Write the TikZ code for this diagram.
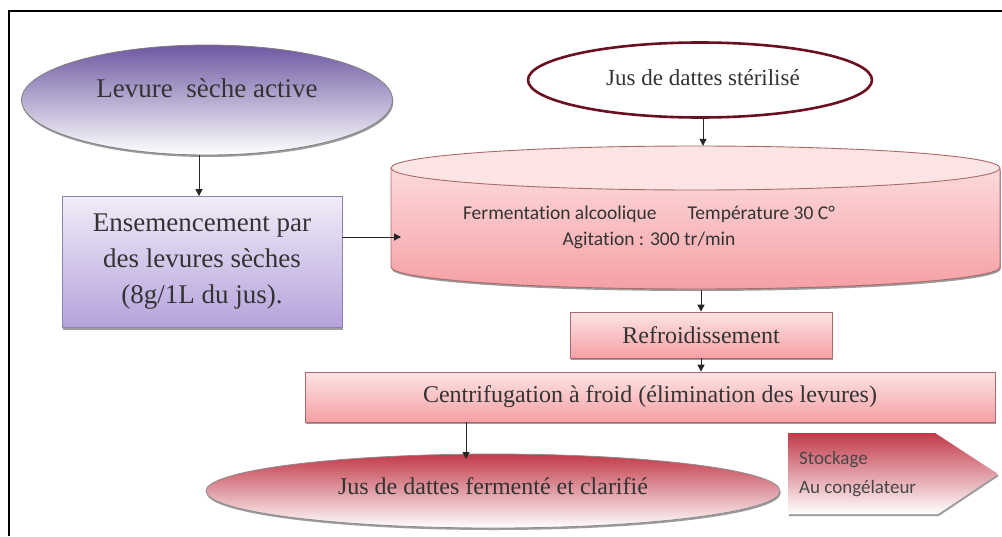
\documentclass[tikz,border=0pt]{standalone}
\usepackage{fontspec}
\setmainfont{Liberation Serif}
\newfontfamily\calfont[Ligatures=NoCommon]{Carlito}
\usetikzlibrary{shapes.geometric,arrows.meta,shadows}
\definecolor{levtop}{HTML}{6E58A2}
\definecolor{enstop}{HTML}{F1ECF8}
\definecolor{ensbot}{HTML}{B5A2DB}
\definecolor{ensline}{HTML}{8C80B4}
\definecolor{jusline}{HTML}{6B1020}
\definecolor{pinktop}{HTML}{FDE4E4}
\definecolor{pinkbot}{HTML}{F5A0A5}
\definecolor{pinkline}{HTML}{A86A6A}
\definecolor{redtop}{HTML}{C23A4A}
\definecolor{txtc}{HTML}{333333}
\tikzset{
  arr/.style={-{Triangle[length=7pt,width=7pt]}, line width=1pt, black!85},
  shad/.style={drop shadow={shadow xshift=0.8pt, shadow yshift=-2pt, fill=black!55, opacity=0.7}},
  serif/.style={text=txtc, inner sep=0pt},
}
\begin{document}
\begin{tikzpicture}[x=1pt,y=-1pt]
\useasboundingbox (0,0) rectangle (1002,536);
\fill[white] (0,0) rectangle (1002,536);
\draw[line width=2.2pt] (9,536) -- (9,11) -- (1002,11);

% Levure seche active
\node[ellipse, minimum width=371pt, minimum height=110pt, inner sep=0pt,
  draw=black!50, line width=0.8pt, top color=levtop, middle color=levtop!25!white, bottom color=white, shad] (lev) at (207,100) {};
\node[serif, font=\fontsize{27}{32}\selectfont] (levt) at (207,88) {Levure\ \ sèche active};

% Ensemencement
\node[rectangle, minimum width=280pt, minimum height=131pt, inner sep=0pt,
  draw=ensline, line width=0.8pt, top color=enstop, bottom color=ensbot, shad,
  align=center, text=txtc, font=\fontsize{27}{36}\selectfont] (ens) at (202,262)
  {Ensemencement par\\des levures sèches\\(8g/1L du jus).};

% Jus de dattes sterilise
\node[ellipse, minimum width=344pt, minimum height=75pt, inner sep=0pt,
  draw=jusline, line width=2.6pt, fill=white] (jus) at (700,80) {};
\node[serif, font=\fontsize{23}{28}\selectfont] (just) at (703,78) {Jus de dattes stérilisé};

% Cylinder
\fill[black!55, opacity=0.7, xshift=0.8pt, yshift=-2pt]
  (391,168) -- (391,267) arc[start angle=180, end angle=0, x radius=304.5, y radius=22] -- (1000,168) -- cycle;
\shade[top color=pinktop, bottom color=pinkbot]
  (391,168) -- (391,267) arc[start angle=180, end angle=0, x radius=304.5, y radius=22] -- (1000,168)
  arc[start angle=0, end angle=-180, x radius=304.5, y radius=22] -- cycle;
\draw[pinkline, line width=0.9pt]
  (391,168) -- (391,267) arc[start angle=180, end angle=0, x radius=304.5, y radius=22] -- (1000,168);
\draw[pinkline, line width=0.9pt, fill=pinktop] (695.5,168) ellipse[x radius=304.5, y radius=22];
\node[minimum width=609pt, minimum height=144pt, inner sep=0pt] (cyl) at (695.5,218) {};
\node[text=txtc, inner sep=0pt, align=center, font=\calfont\fontsize{19.5}{26}\selectfont] (cylt) at (649,227)
  {Fermentation alcoolique\hspace{1.6em}Température 30 C°\\Agitation : 300 tr/min};

% Refroidissement
\node[rectangle, minimum width=262pt, minimum height=46pt, inner sep=0pt,
  draw=pinkline, line width=0.8pt, top color=pinktop, bottom color=pinkbot, shad,
  text=txtc, font=\fontsize{24}{28}\selectfont] (ref) at (701,335) {Refroidissement};

% Centrifugation
\node[rectangle, minimum width=690pt, minimum height=50pt, inner sep=0pt,
  draw=pinkline, line width=0.8pt, top color=pinktop, bottom color=pinkbot, shad,
  text=txtc, font=\fontsize{24}{28}\selectfont] (cen) at (650,397) {Centrifugation à froid (élimination des levures)};

% Jus fermente
\node[ellipse, minimum width=574pt, minimum height=74pt, inner sep=0pt,
  draw=black!45, line width=0.8pt, top color=redtop, middle color=redtop!12!white, bottom color=white, shad] (fer) at (493,491) {};
\node[serif, font=\fontsize{24}{28}\selectfont] (fert) at (493,486) {Jus de dattes fermenté et clarifié};

% Stockage
\fill[black!55, opacity=0.7, xshift=0.8pt, yshift=-2pt] (788,433) -- (935,433) -- (998,474) -- (938,514) -- (788,514) -- cycle;
\shade[top color=redtop, middle color=redtop!35!white, bottom color=white]
  (788,433) -- (935,433) -- (998,474) -- (938,514) -- (788,514) -- cycle;
\node[text=txtc!90, inner sep=0pt, align=left, anchor=west, font=\calfont\fontsize{19}{29}\selectfont] (sto) at (799,474)
  {Stockage\\Au congélateur};

% Connectors
\coordinate (cin) at (401,237);
\coordinate (jusout) at (703,118);
\coordinate (ferin) at (466,459);
\draw[arr] (lev.south -| 199,0) -- (ens.north -| 199,0);
\draw[arr] (ens.east |- cin) -- (cin);
\draw[arr] (jusout) -- (jusout |- cyl.north);
\draw[arr] (cyl.south -| ref.north) -- (ref.north);
\draw[arr] (ref.south) -- (cen.north -| ref.south);
\draw[arr] (cen.south -| ferin) -- (ferin);
\end{tikzpicture}
\end{document}
